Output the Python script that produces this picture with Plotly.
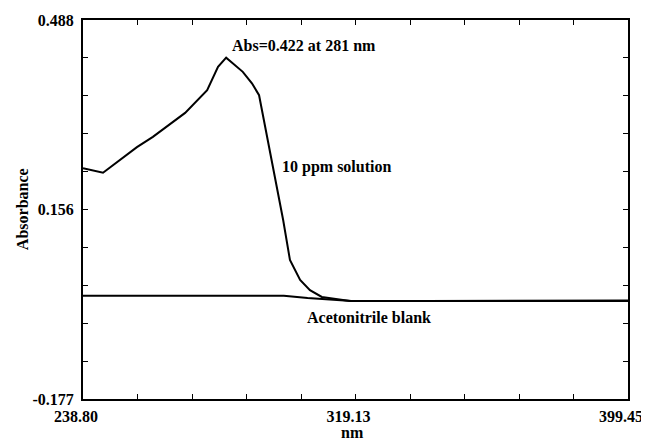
import plotly.graph_objects as go

# 10 ppm solution spectrum (nm, absorbance)
sol_nm = [238.8, 244.7, 254.7, 259.4, 268.9, 275.4, 278.6, 281.0, 285.9, 288.6, 290.7,
          294.5, 297.8, 299.8, 302.8, 305.7, 309.2, 317.5, 340.0, 370.0, 399.45]
sol_abs = [0.228, 0.220, 0.265, 0.283, 0.325, 0.365, 0.406, 0.422, 0.397, 0.377, 0.356,
           0.237, 0.137, 0.067, 0.032, 0.014, 0.002, -0.005, -0.005, -0.005, -0.005]

# Acetonitrile blank (nm, absorbance)
blank_nm = [238.8, 260.0, 280.0, 298.0, 305.0, 312.0, 318.0, 340.0, 370.0, 399.45]
blank_abs = [0.004, 0.004, 0.004, 0.004, 0.000, -0.003, -0.005, -0.005, -0.005, -0.004]

x_min, x_max = 238.80, 399.45
y_min, y_max = -0.177, 0.488
x_ticks = [x_min + i * (x_max - x_min) / 10 for i in range(11)]
x_text = ["238.80", "", "", "", "", "319.13", "", "", "", "", "399.45"]
y_ticks = [y_min + i * (y_max - y_min) / 10 for i in range(11)]
y_text = ["-0.177", "", "", "", "", "0.156", "", "", "", "", "0.488"]

FONT = "Liberation Serif"

fig = go.Figure()
fig.add_trace(go.Scatter(x=sol_nm, y=sol_abs, mode="lines",
                         line=dict(color="black", width=2), name="10 ppm solution"))
fig.add_trace(go.Scatter(x=blank_nm, y=blank_abs, mode="lines",
                         line=dict(color="black", width=2), name="Acetonitrile blank"))

axis_common = dict(showgrid=False, zeroline=False, showline=True, linecolor="black",
                   linewidth=2, mirror="allticks", ticks="inside", ticklen=5,
                   tickcolor="black", tickwidth=1, automargin=False,
                   tickfont=dict(family=FONT, size=16, color="black", weight="bold"))

fig.update_xaxes(range=[x_min, x_max], tickvals=x_ticks, ticktext=x_text,
                 ticklabelstandoff=2, ticklabelshift=-7, **axis_common)
fig.update_yaxes(range=[y_min, y_max], tickvals=y_ticks, ticktext=y_text,
                 ticklabelstandoff=4, **axis_common)

ann_font = dict(family=FONT, size=16, color="black", weight="bold")
fig.add_annotation(x=281.0, y=0.422, text="Abs=0.422 at 281 nm", showarrow=False,
                   xanchor="left", yanchor="bottom", xshift=4, yshift=2, font=ann_font)
fig.add_annotation(x=295.5, y=0.23, text="10 ppm solution", showarrow=False,
                   xanchor="left", yanchor="middle", xshift=5, font=ann_font)
fig.add_annotation(x=304.2, y=-0.005, text="Acetonitrile blank", showarrow=False,
                   xanchor="left", yanchor="top", yshift=-6, font=ann_font)

fig.add_annotation(xref="paper", yref="paper", x=-0.13, y=0.5, text="Absorbance",
                   textangle=-90, showarrow=False, font=ann_font)
fig.add_annotation(xref="paper", yref="paper", x=0.495, y=-0.062, text="nm",
                   showarrow=False, yanchor="top", font=ann_font)

fig.update_layout(width=649, height=443, margin=dict(l=75, r=29, t=12, b=52),
                  paper_bgcolor="white", plot_bgcolor="white", showlegend=False)

fig.write_html("out.html")
